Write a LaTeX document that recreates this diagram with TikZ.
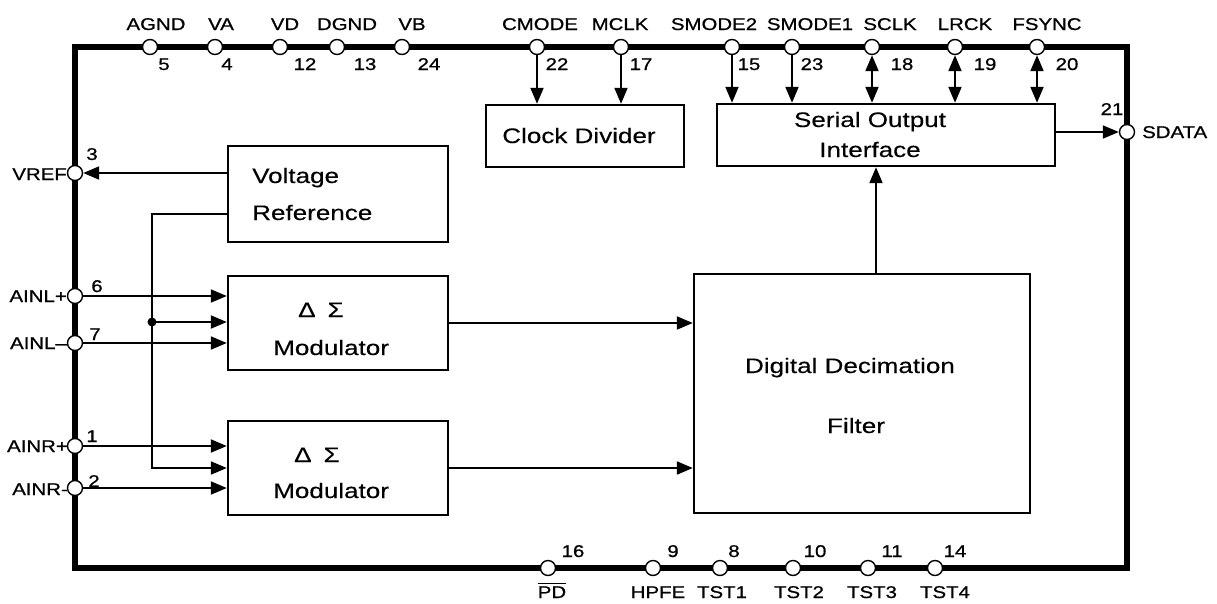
\documentclass[tikz,border=0pt]{standalone}
\usepackage{fontspec}
\setmainfont{Liberation Sans}[FakeStretch=1.2,FakeBold=0.8]
\newfontfamily\blockfont{Liberation Sans}[FakeStretch=1.24,FakeBold=0.3]
\usetikzlibrary{arrows.meta}
\begin{document}
\begin{tikzpicture}[x=1pt,y=-1pt,
  pinc/.style={circle,draw,fill=white,line width=1.4pt,minimum size=15pt,inner sep=0pt},
  blk/.style={draw,line width=2.4pt,inner sep=0pt},
  conn/.style={line width=2pt},
  arr/.style={conn,-{Triangle[length=16pt,width=13pt]}},
  darr/.style={conn,{Triangle[length=16pt,width=13pt]}-{Triangle[length=16pt,width=13pt]}},
  plab/.style={font=\fontsize{17}{20}\selectfont,anchor=base,inner sep=0pt},
  btxt/.style={font=\blockfont\fontsize{21}{25}\selectfont,inner sep=0pt,anchor=base},
]
\useasboundingbox (0,0) rectangle (1217,603);

% chip outline
\draw[line width=5.5pt,line join=miter] (75,47) rectangle (1127,568);

% blocks
\node[blk,minimum width=220pt,minimum height=96pt] (vr) at (338,194) {};
\node[blk,minimum width=220pt,minimum height=94pt] (m1) at (338,323) {};
\node[blk,minimum width=220pt,minimum height=94pt] (m2) at (338,468) {};
\node[blk,minimum width=336pt,minimum height=239pt] (ddf) at (862,393.5) {};
\node[blk,minimum width=198pt,minimum height=62pt] (cd) at (585,136) {};
\node[blk,minimum width=338pt,minimum height=62pt] (soi) at (886,135) {};

% block texts
\node[btxt,anchor=base west] (t1) at (252,183) {Voltage};
\node[btxt,anchor=base west] (t2) at (252,220) {Reference};
\node[btxt,anchor=base west] (t3) at (298,317) {Δ\hspace{12pt}Σ};
\node[btxt,anchor=base west] (t4) at (273,355) {Modulator};
\node[btxt,anchor=base west] (t5) at (294,462) {Δ\hspace{12pt}Σ};
\node[btxt,anchor=base west] (t6) at (273,498) {Modulator};
\node[btxt] (t7) at (579,143) {Clock Divider};
\node[btxt] (t8) at (870,127) {Serial Output};
\node[btxt] (t9) at (870,157) {Interface};
\node[btxt] (t10) at (850,373) {Digital Decimation};
\node[btxt] (t11) at (856,433) {Filter};

% pins (top)
\node[pinc] (agnd) at (150,47) {};
\node[pinc] (va) at (215,47) {};
\node[pinc] (vd) at (280,47) {};
\node[pinc] (dgnd) at (337,47) {};
\node[pinc] (vb) at (402,47) {};
\node[pinc] (cmode) at (537,47) {};
\node[pinc] (mclk) at (621,47) {};
\node[pinc] (smtwo) at (732,47) {};
\node[pinc] (smone) at (792,47) {};
\node[pinc] (sclk) at (872,47) {};
\node[pinc] (lrck) at (955,47) {};
\node[pinc] (fsync) at (1037,47) {};
% right
\node[pinc] (sdata) at (1127,132) {};
% left
\node[pinc] (vref) at (75,173) {};
\node[pinc] (ainlp) at (75,296) {};
\node[pinc] (ainlm) at (75,343) {};
\node[pinc] (ainrp) at (75,446) {};
\node[pinc] (ainrm) at (75,488) {};
% bottom
\node[pinc] (pd) at (548,568) {};
\node[pinc] (hpfe) at (653,568) {};
\node[pinc] (tsta) at (720,568) {};
\node[pinc] (tstb) at (793,568) {};
\node[pinc] (tstc) at (868,568) {};
\node[pinc] (tstd) at (935,568) {};

% connectors
\draw[arr] (cmode.south) -- (cmode.south |- cd.north);
\draw[arr] (mclk.south) -- (mclk.south |- cd.north);
\draw[arr] (smtwo.south) -- (smtwo.south |- soi.north);
\draw[arr] (smone.south) -- (smone.south |- soi.north);
\draw[darr] (sclk.south) -- (sclk.south |- soi.north);
\draw[darr] (lrck.south) -- (lrck.south |- soi.north);
\draw[darr] (fsync.south) -- (fsync.south |- soi.north);
\draw[arr] (soi.east |- sdata.west) -- (sdata.west);
\draw[arr] (vr.west |- vref.east) -- (vref.east);
\coordinate (b1) at (152,214);
\coordinate (b2) at (152,468);
\draw[arr] (vr.west |- b1) -- (b1) -- (b2) -- (m2.west |- b2);
\fill (152,322) circle (4.5pt) coordinate (jd);
\draw[arr] (jd) -- (m1.west |- jd);
\draw[arr] (ainlp.east) -- (m1.west |- ainlp.east);
\draw[arr] (ainlm.east) -- (m1.west |- ainlm.east);
\draw[arr] (ainrp.east) -- (m2.west |- ainrp.east);
\draw[arr] (ainrm.east) -- (m2.west |- ainrm.east);
\draw[arr] (m1.east) -- (ddf.west |- m1.east);
\draw[arr] (m2.east) -- (ddf.west |- m2.east);
\coordinate (dx) at (876,274);
\draw[arr] (dx) -- (dx |- soi.south);

% top labels
\node[plab] (lagnd) at (156,30) {AGND};
\node[plab] (lva) at (221,30) {VA};
\node[plab] (lvd) at (285,30) {VD};
\node[plab] (ldgnd) at (347,30) {DGND};
\node[plab] (lvb) at (412,30) {VB};
\node[plab] (lcmode) at (540,30) {CMODE};
\node[plab] (lmclk) at (620,30) {MCLK};
\node[plab] (lsmtwo) at (714,30) {SMODE2};
\node[plab] (lsmone) at (810,30) {SMODE1};
\node[plab] (lsclk) at (890,30) {SCLK};
\node[plab] (llrck) at (965,30) {LRCK};
\node[plab] (lfsync) at (1047,30) {FSYNC};
% top numbers
\node[plab] (n5) at (164,70) {5};
\node[plab] (n4) at (227,70) {4};
\node[plab] (n12) at (305,70) {12};
\node[plab] (n13) at (365,70) {13};
\node[plab] (n24) at (429,70) {24};
\node[plab] (n22) at (557,70) {22};
\node[plab] (n17) at (641,70) {17};
\node[plab] (n15) at (749,70) {15};
\node[plab] (n23) at (812,70) {23};
\node[plab] (n18) at (902,70) {18};
\node[plab] (n19) at (985,70) {19};
\node[plab] (n20) at (1067,70) {20};
% right
\node[plab] (n21) at (1112,115) {21};
\node[plab,anchor=base west] (lsdata) at (1142,138) {SDATA};
% left
\node[plab,anchor=base east] (lvref) at (67,180) {VREF};
\node[plab,anchor=base east] (lainlp) at (67,302) {AINL+};
\node[plab,anchor=base east] (lainlm) at (67,349) {AINL–};
\node[plab,anchor=base east] (lainrp) at (68,452) {AINR+};
\node[plab,anchor=base east] (lainrm) at (68,495) {AINR-};
\node[plab] (n3) at (92,160) {3};
\node[plab] (n6) at (97,292) {6};
\node[plab] (n7) at (95,340) {7};
\node[plab] (n1) at (92,442) {1};
\node[plab] (n2) at (94,487) {2};
% bottom
\node[plab] (n16) at (573,557) {16};
\node[plab] (n9) at (673,557) {9};
\node[plab] (n8) at (734,557) {8};
\node[plab] (n10) at (815,557) {10};
\node[plab] (n11) at (892,557) {11};
\node[plab] (n14) at (955,557) {14};
\node[plab] (lpd) at (552,598) {PD};
\draw[line width=1.3pt] ([yshift=2.5pt]lpd.north west) -- ([yshift=2.5pt]lpd.north east);
\node[plab] (lhpfe) at (658,598) {HPFE};
\node[plab] (ltsta) at (722,598) {TST1};
\node[plab] (ltstb) at (799,598) {TST2};
\node[plab] (ltstc) at (872,598) {TST3};
\node[plab] (ltstd) at (945,598) {TST4};
\end{tikzpicture}
\end{document}
